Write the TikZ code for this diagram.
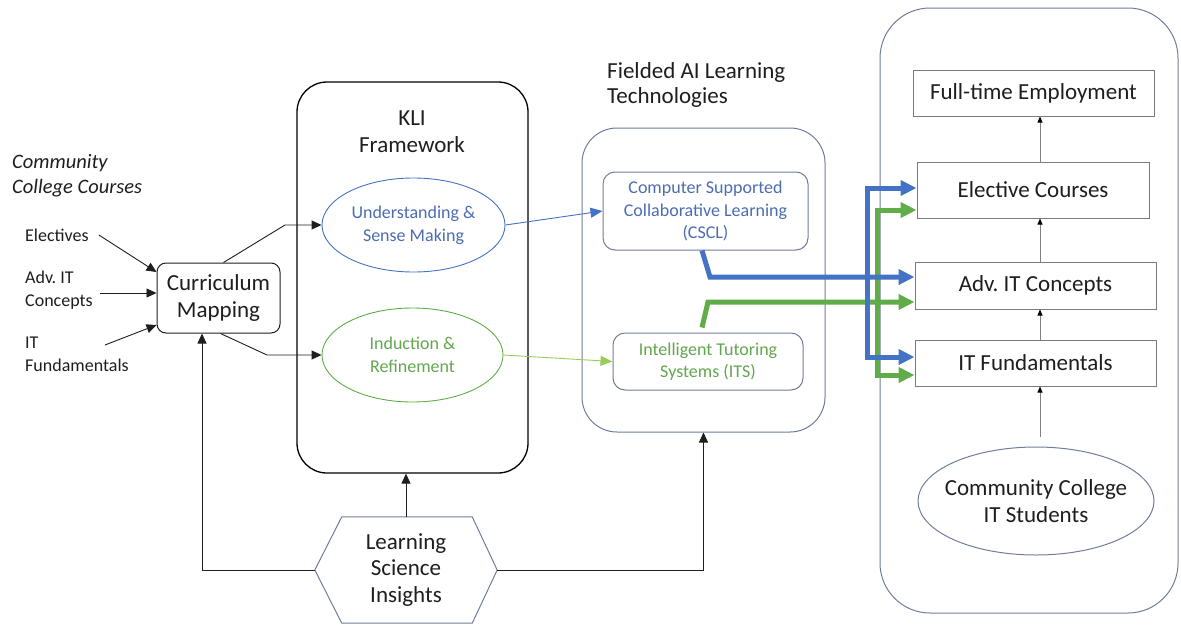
\documentclass[tikz,border=0pt]{standalone}
\usepackage{fontspec}
\setmainfont{Carlito}
\usetikzlibrary{arrows.meta,shapes.geometric,calc,positioning}
\definecolor{bluetxt}{RGB}{76,108,178}
\definecolor{greentxt}{RGB}{98,166,78}
\definecolor{bluearr}{RGB}{68,114,196}
\definecolor{greenarr}{RGB}{96,172,72}
\definecolor{lightgreen}{RGB}{150,204,90}
\definecolor{frame}{RGB}{112,124,152}
\definecolor{boxgray}{RGB}{120,122,132}
\definecolor{ink}{RGB}{30,30,30}
\frenchspacing

\begin{document}
\begin{tikzpicture}[x=1pt,y=-1pt,
  big/.style={font=\fontsize{23}{27}\selectfont, align=center, text=ink},
  small/.style={font=\fontsize{18}{23}\selectfont, align=center, text=ink},
  arr/.style={-{Triangle[length=10pt,width=9pt]}, line width=0.9pt, draw=ink},
  thinarr/.style={-{Triangle[length=12pt,width=10pt]}, line width=0.9pt},
  tinyarr/.style={-{Triangle[length=6pt,width=5pt,color=black]}, line width=0.8pt, draw=gray},
  thickarr/.style={-{Triangle[length=16pt,width=15pt]}, line width=5pt},
  boththick/.style={{Triangle[length=16pt,width=15pt]}-{Triangle[length=16pt,width=15pt]}, line width=5pt},
  rbox/.style={draw=boxgray, line width=1pt, big}]
\useasboundingbox (0,0) rectangle (1181,624);

\node[font=\fontsize{20.5}{25}\selectfont\itshape, align=left, anchor=west, inner sep=0pt, text=ink] (cctitle) at (12,175.5) {Community\\College Courses};
\node[small, align=left, anchor=west, inner sep=0pt] (elec) at (25,235) {Electives};
\node[small, align=left, anchor=west, inner sep=0pt] (adv) at (25,290) {Adv. IT\\Concepts};
\node[small, align=left, anchor=west, inner sep=0pt] (itf) at (25,354) {IT\\Fundamentals};

\node[draw=ink, line width=1pt, rounded corners=9pt, minimum width=123pt, minimum height=70pt, big] (curr) at (218.5,298) {Curriculum\\Mapping};

\draw[arr] ([xshift=10pt]elec.east) -- ([yshift=26pt]curr.west);
\draw[arr] ($(adv.east)+(7,3)$) -- ([yshift=5pt]curr.west);
\draw[arr] ($(itf.west)+(80,-9)$) -- ([yshift=-27pt]curr.west);

\node[draw=black, line width=1.3pt, rounded corners=30pt, minimum width=231pt, minimum height=391pt] (kli) at (412.5,277.5) {};
\node[big] (klit) at (412,131.5) {KLI\\Framework};
\node[ellipse, draw=bluearr, line width=0.9pt, small, text=bluetxt, minimum width=183pt, minimum height=94pt, inner sep=0pt] (und) at (413.5,225) {Understanding \&\\Sense Making};
\node[ellipse, draw=greenarr, line width=0.9pt, small, text=greentxt, minimum width=181pt, minimum height=94pt, inner sep=0pt] (ind) at (412.5,355) {Induction \&\\Refinement};

\coordinate (cu) at (285,225);
\coordinate (cd) at (267,355);
\draw[arr] ([xshift=5pt]curr.north) -- (cu) -- (und.west);
\draw[arr] ([xshift=2pt]curr.south) -- (cd) -- (ind.west);

\node[font=\fontsize{23}{25}\selectfont, align=left, anchor=west, inner sep=0pt, text=ink] (fldt) at (607,84.5) {Fielded AI Learning\\Technologies};
\node[draw=frame, line width=1pt, rounded corners=35pt, minimum width=243pt, minimum height=304pt] (fld) at (703.5,280) {};
\node[draw=frame, line width=1pt, rounded corners=12pt, minimum width=205pt, minimum height=78pt, small, font=\fontsize{18}{22.5}\selectfont, text=bluetxt] (cscl) at (705.5,211) {Computer Supported\\Collaborative Learning\\(CSCL)};
\node[draw=frame, line width=1pt, rounded corners=12pt, minimum width=190pt, minimum height=57pt, small, font=\fontsize{18}{22}\selectfont, text=greentxt] (its) at (708,361.5) {Intelligent Tutoring\\Systems (ITS)};

\draw[thinarr, color=bluearr] (und.east) -- (cscl.west);
\draw[thinarr, color=lightgreen] (ind.east) -- (its.west);

\node[draw=frame, line width=1pt, rounded corners=50pt, minimum width=298pt, minimum height=605pt] (emp) at (1029,310.5) {};
\node[rbox, minimum width=241pt, minimum height=46pt] (full) at (1033.5,93) {Full-time Employment};
\node[rbox, minimum width=232pt, minimum height=56pt] (elect) at (1033,190) {Elective Courses};
\node[rbox, minimum width=241pt, minimum height=47pt] (advc) at (1035.5,285.5) {Adv. IT Concepts};
\node[rbox, minimum width=241pt, minimum height=46pt] (itfc) at (1035.5,363) {IT Fundamentals};
\node[ellipse, draw=frame, line width=1pt, big, minimum width=236pt, minimum height=108pt, inner xsep=-12pt, inner ysep=0pt] (stud) at (1036,501) {Community College\\IT Students};

\draw[tinyarr] ([xshift=7pt]elect.north) -- ([xshift=7pt]elect.north |- full.south);
\draw[tinyarr] ([xshift=4.5pt]advc.north) -- ([xshift=4.5pt]advc.north |- elect.south);
\draw[tinyarr] ([xshift=4.5pt]itfc.north) -- ([xshift=4.5pt]itfc.north |- advc.south);
\draw[tinyarr, shorten <=10pt] ([xshift=4pt]stud.north) -- ([xshift=4pt]stud.north |- itfc.south);

\coordinate (bb) at (710,277);
\coordinate (gb) at (708,302);
\draw[thickarr, color=greenarr] ([xshift=-6pt,yshift=5pt]its.north) -- (gb) -- (gb -| advc.west);
\draw[boththick, color=greenarr] ([yshift=-20pt]elect.west) -- ++(-39,0) |- ([yshift=-12pt]itfc.west);
\draw[thickarr, color=bluearr] ([xshift=-3.5pt]cscl.south) -- (bb) -- (bb -| advc.west);
\draw[boththick, color=bluearr] ([yshift=2pt]elect.west) -- ++(-49,0) |- ([yshift=6pt]itfc.west);

\node[big, font=\fontsize{23}{26.5}\selectfont, minimum width=182pt, minimum height=106pt, inner sep=0pt] (lsi) at (406,570) {Learning\\Science\\Insights};
\draw[draw=frame, line width=1pt] ($(lsi.north west)+(27,0)$) -- ($(lsi.north east)+(-25,0)$) -- (lsi.east) -- ($(lsi.south east)+(-25,0)$) -- ($(lsi.south west)+(27,0)$) -- (lsi.west) -- cycle;

\draw[arr] (lsi.north) -- (lsi.north |- kli.south);
\draw[arr] (lsi.west) -| ([xshift=-16.5pt]curr.south);
\draw[arr] (lsi.east) -| (fld.south);
\end{tikzpicture}
\end{document}
